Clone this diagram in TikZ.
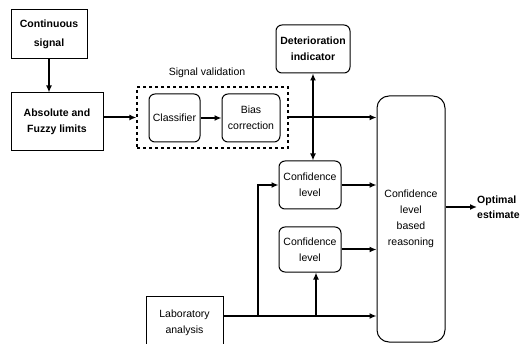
\documentclass[tikz,border=0pt]{standalone}
\usepackage{fontspec}
\setmainfont{Liberation Sans}
\usetikzlibrary{arrows.meta}

\begin{document}
\begin{tikzpicture}[
        x=1pt, y=-1pt,
        every node/.style={
            font=\fontsize{10.5}{16}\selectfont
        },
        plainbox/.style={
            draw,
            line width=1pt,
            inner sep=0pt,
            align=center,
            font=\fontsize{10.5}{16}\selectfont\bfseries
        },
        roundbox/.style={
            draw,
            line width=1pt,
            rounded corners=6pt,
            inner sep=0pt,
            align=center
        },
        groupbox/.style={
            draw,
            dashed,
            line width=1.3pt,
            inner sep=0pt
        },
        flow/.style={
            -{Latex[length=7pt,width=6pt]},
            line width=2pt
        },
        twoway/.style={
            {Latex[length=7pt,width=6pt]}-{Latex[length=7pt,width=6pt]},
            line width=2pt
        }
    ]

    \useasboundingbox (0,0) rectangle (521,344);

    % ---------------------------------------------------------
    % Blocks
    % ---------------------------------------------------------
    \node[plainbox, minimum width=76, minimum height=49,
          font=\fontsize{10.5}{19}\selectfont\bfseries]
        (signal) at (49,34.5) {Continuous\\signal};

    \node[plainbox, minimum width=92, minimum height=58]
        (limits) at (57,122) {Absolute and\\Fuzzy limits};

    \node[groupbox, minimum width=151, minimum height=61]
        (valid) at (212.5,117.5) {};
    \node (validlabel) at (207,73) {Signal validation};

    \node[roundbox, minimum width=51, minimum height=48]
        (classifier) at (174.5,118) {Classifier};
    \node[roundbox, minimum width=58, minimum height=48]
        (bias) at (251,118) {Bias\\correction};

    \node[roundbox, minimum width=74, minimum height=48,
          font=\fontsize{10.5}{16}\selectfont\bfseries]
        (deter) at (313,49) {Deterioration\\indicator};

    \node[roundbox, minimum width=62, minimum height=48]
        (conf1) at (310,185) {Confidence\\level};
    \node[roundbox, minimum width=62, minimum height=45]
        (conf2) at (310,249.5) {Confidence\\level};

    \node[roundbox, rounded corners=12pt, minimum width=68, minimum height=246]
        (reason) at (411,219) {Confidence\\level\\based\\reasoning};

    \node[plainbox, minimum width=77, minimum height=54,
          font=\fontsize{10.5}{16}\selectfont]
        (lab) at (184.5,323) {Laboratory\\analysis};

    \node[anchor=west, align=left, inner sep=0pt,
          font=\fontsize{10.5}{15}\selectfont\bfseries]
        (optimal) at (477,207) {Optimal\\estimate};

    % ---------------------------------------------------------
    % Connectors
    % ---------------------------------------------------------
    \draw[flow] (signal) -- (signal |- limits.north);
    \draw[flow] (limits.east |- valid) -- (valid.west);
    \draw[flow] (classifier) -- (bias);
    \draw[flow] (valid.east) -- (reason.west |- valid.east);

    \draw[twoway] (deter.south) -- (deter.south |- conf1.north);

    \draw[flow] (conf1.east) -- (reason.west |- conf1.east);
    \draw[flow] (conf2.east) -- (reason.west |- conf2.east);

    \draw[flow] ([yshift=12pt]reason.east) -- (optimal.west);

    % laboratory line with its two branches
    \coordinate (labout) at ([yshift=7pt]lab.east);
    \coordinate (branchA) at (258,316);
    \coordinate (branchB) at (316,316);
    \draw[flow] (labout) -- (reason.west |- labout);
    \draw[flow] (branchA) |- (conf1.west);
    \draw[flow] (branchB) -- (branchB |- conf2.south);

\end{tikzpicture}
\end{document}
